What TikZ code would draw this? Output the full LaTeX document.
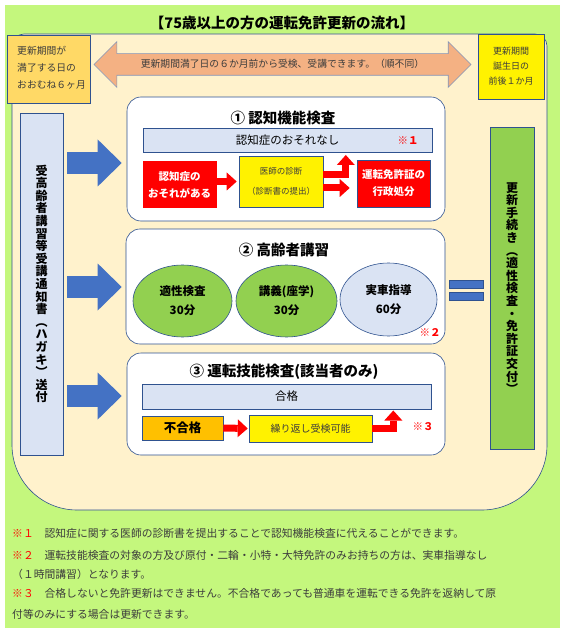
\documentclass[tikz,border=0pt]{standalone}
\usepackage{fontspec}
\setmainfont{Noto Sans CJK JP}
\usetikzlibrary{arrows.meta,calc,shapes.geometric,shapes.arrows}

\definecolor{bggreen}{RGB}{196,247,125}
\definecolor{peach}{RGB}{255,242,204}
\definecolor{gold}{RGB}{255,217,102}
\definecolor{salmon}{RGB}{244,177,131}
\definecolor{lightblue}{RGB}{218,227,243}
\definecolor{leaf}{RGB}{146,208,80}
\definecolor{arrowblue}{RGB}{68,114,196}
\definecolor{edgeblue}{RGB}{47,82,143}
\definecolor{amber}{RGB}{255,192,0}
\definecolor{graytext}{RGB}{60,60,60}

\begin{document}
\begin{tikzpicture}[x=1pt, y=-1pt, inner sep=0pt,
	outline/.style={draw=edgeblue, line width=0.6pt},
	panel/.style={outline, fill=white, rounded corners=14pt},
	ptitle/.style={font=\bfseries\fontsize{14.5}{16}\selectfont},
	bar/.style={outline, fill=lightblue, minimum width=289pt, minimum height=24pt, font=\fontsize{11.5}{13}\selectfont},
	redbox/.style={fill=red, minimum width=74pt, minimum height=47pt, align=center, text=white, font=\bfseries\fontsize{10.5}{17}\selectfont},
	oval/.style={ellipse, outline, align=center, font=\bfseries\fontsize{11.5}{19}\selectfont},
	vlabel/.style={align=center, font=\bfseries\fontsize{12}{12.6}\selectfont},
	refmark/.style={text=red, font=\bfseries\fontsize{10.5}{12}\selectfont},
	note/.style={anchor=west, text=graytext, font=\fontsize{10.8}{12}\selectfont},
	bluearrow/.style={arrowblue, line width=22pt, -{Triangle[length=24pt, width=47pt, line width=0pt]}},
	redarrow/.style={red, line width=7pt, -{Triangle[length=10pt, width=18pt, line width=0pt]}}]

	\useasboundingbox (0,0) rectangle (565,628);
	% Background
	\fill[bggreen] (5,5) rectangle (560,628);

	\node[ptitle] (title) at (282,23) {【75歳以上の方の運転免許更新の流れ】};

	% Draw the peach area
	\draw[outline, fill=peach] (12,46) .. controls (12,39.4) and (17.4,34) .. (24,34)
		-- (535,34) .. controls (541.6,34) and (547,39.4) .. (547,46)
		-- (547,445) .. controls (547,480.9) and (517.9,510) .. (482,510)
		-- (77,510) .. controls (41.1,510) and (12,480.9) .. (12,445) -- cycle;

	% Period boxes and the double arrow
	\node[outline, fill=gold, minimum width=83pt, minimum height=68pt] (due) at (48.5,69) {};
	\node[anchor=west, align=left, text=graytext, font=\fontsize{9.8}{17}\selectfont] (duetext) at (17,68) {更新期間が\\満了する日の\\おおむね６ヶ月};
	\node[outline, fill=yellow, minimum width=66pt, minimum height=65pt, align=center, text=graytext, font=\fontsize{9}{15}\selectfont] (birth) at (511,66.5) {更新期間\\誕生日の\\前後１か月};
	\node[double arrow, draw=edgeblue!60, line width=0.6pt, fill=salmon, minimum height=377pt, double arrow head extend=12pt, inner xsep=4pt, inner ysep=0pt, text height=14pt, text depth=7pt, text=graytext, font=\fontsize{9.8}{12}\selectfont] (span) at (282.5,64.5) {更新期間満了日の６か月前から受検、受講できます。（順不同）};

	% Side boxes
	\node[outline, fill=lightblue, minimum width=43pt, minimum height=342pt, vlabel] (notice) at (41.5,284) {受\\高\\齢\\者\\講\\習\\等\\受\\講\\通\\知\\書\\︵\\ハ\\ガ\\キ\\︶\\送\\付};
	\node[outline, fill=leaf, minimum width=44pt, minimum height=322pt, vlabel] (renew) at (512,288) {更\\新\\手\\続\\き\\︵\\適\\性\\検\\査\\・\\免\\許\\証\\交\\付\\︶};

	% Panels
	\node[panel, minimum width=318pt, minimum height=124pt] (cog) at (286,159) {};
	\node[panel, minimum width=319pt, minimum height=115pt] (talk) at (285.5,286.5) {};
	\node[panel, minimum width=318pt, minimum height=102pt] (drive) at (286,404) {};

	% Blue arrows into the panels
	\draw[bluearrow] ($(notice.east |- cog.west)+(4,4)$) -- ($(cog.west)+(-5,4)$);
	\draw[bluearrow] ($(notice.east |- talk.west)+(4,0.5)$) -- ($(talk.west)+(-4,0.5)$);
	\draw[bluearrow] ($(notice.east |- drive.west)+(4,-8)$) -- ($(drive.west)+(-5,-8)$);

	% Equals sign
	\draw[outline, fill=arrowblue] (449,280) rectangle (483,288);
	\draw[outline, fill=arrowblue] (449,292) rectangle (483,300);

	% Panel 1
	\node[ptitle] (t1) at (283,118) {① 認知機能検査};
	\node[bar] (none) at (287.5,140) {認知症のおそれなし};
	\node[refmark] (r1) at (408,141) {※１};
	\node[redbox] (dem) at (179.5,184.5) {認知症の\\おそれがある};
	\node[outline, fill=yellow, minimum width=84pt, minimum height=51pt, align=center, text=graytext, font=\fontsize{8.5}{20}\selectfont] (med) at (281,181.5) {医師の診断\\（診断書の提出）};
	\node[redbox, outline, minimum width=73pt] (adm) at (393.5,183.5) {運転免許証の\\行政処分};
	\draw[redarrow] (dem.east |- med.west) -- ($(med.west)+(-2,0)$);
	\draw[redarrow] ($(med.east)+(0,-6.5)$) -| ($(med.east)+(22.5,-26.5)$);
	\draw[redarrow] ($(med.east)+(0,6.5)$) -- ($(adm.west)+(-7,4.5)$);

	% Panel 2
	\node[ptitle] (t2) at (284,250) {② 高齢者講習};
	\node[oval, fill=leaf, minimum width=99pt, minimum height=72pt] (apt) at (182.5,301) {適性検査\\30分};
	\node[oval, fill=leaf, minimum width=101pt, minimum height=72pt] (lec) at (286.5,301) {講義(座学)\\30分};
	\node[oval, fill=lightblue, minimum width=97pt, minimum height=73pt] (car) at (388.5,299.5) {実車指導\\60分};
	\node[refmark] (r2) at (430,333) {※２};

	% Panel 3
	\node[ptitle] (t3) at (284,372) {③ 運転技能検査(該当者のみ)};
	\node[bar, minimum height=25pt] (pass) at (286.5,396.5) {合格};
	\node[outline, fill=amber, minimum width=81pt, minimum height=24pt, font=\bfseries\fontsize{12.5}{14}\selectfont] (fail) at (182.5,428) {不合格};
	\node[outline, fill=yellow, minimum width=123pt, minimum height=27pt, text=graytext, font=\fontsize{10}{12}\selectfont] (retry) at (310.5,428.5) {繰り返し受検可能};
	\draw[redarrow] (fail.east) -- ($(retry.west)+(-1,0)$);
	\draw[redarrow] (retry.east) -| ($(retry.east)+(21,-18)$);
	\node[refmark] (r3) at (423,427) {※３};

	% Notes
	\node[note] (n1) at (12,533) {\textcolor{red}{※１}　認知症に関する医師の診断書を提出することで認知機能検査に代えることができます。};
	\node[note] (n2) at (12,555) {\textcolor{red}{※２}　運転技能検査の対象の方及び原付・二輪・小特・大特免許のみお持ちの方は、実車指導なし};
	\node[note] (n3) at (12,574) {（１時間講習）となります。};
	\node[note] (n4) at (12,593) {\textcolor{red}{※３}　合格しないと免許更新はできません。不合格であっても普通車を運転できる免許を返納して原};
	\node[note] (n5) at (12,614) {付等のみにする場合は更新できます。};

\end{tikzpicture}
\end{document}
